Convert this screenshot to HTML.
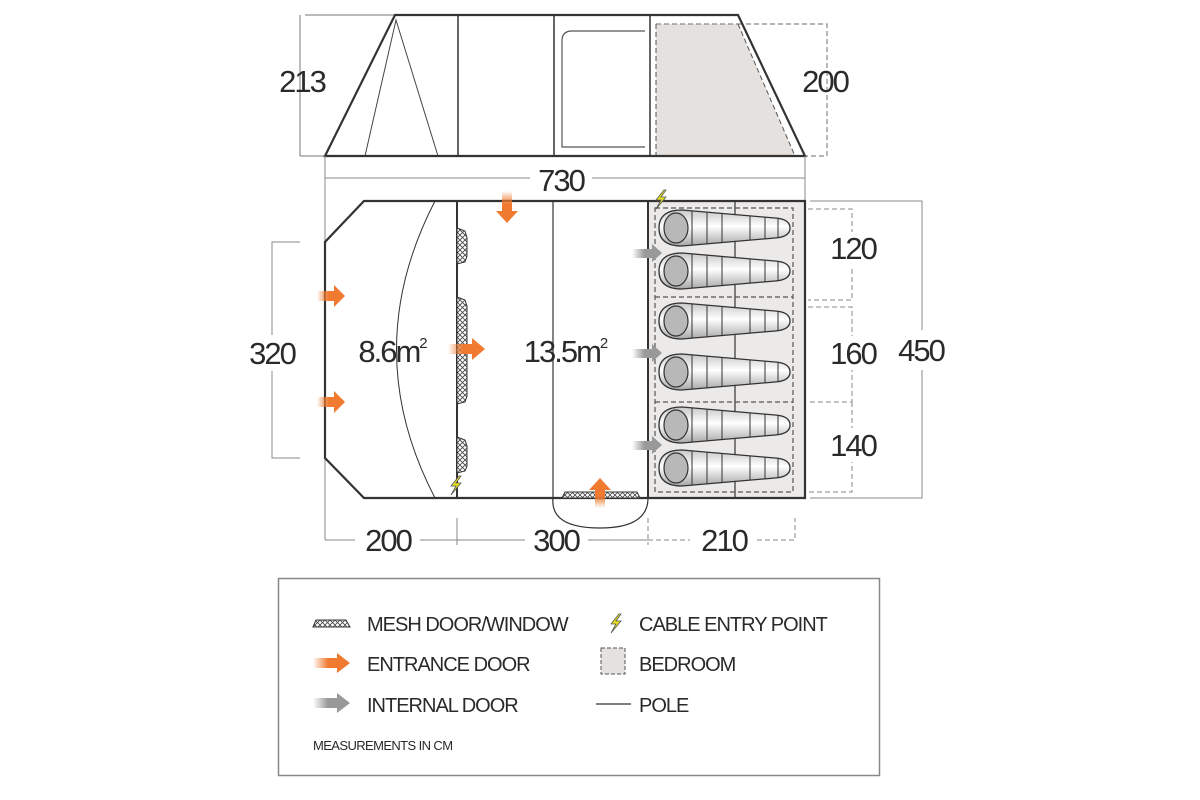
<!DOCTYPE html>
<html><head><meta charset="utf-8"><style>
html,body{margin:0;padding:0;background:#fff;}
svg{display:block;}
text{font-family:"Liberation Sans",sans-serif;fill:#2a2a2a;}
</style></head><body>
<svg width="1200" height="800" viewBox="0 0 1200 800" xmlns="http://www.w3.org/2000/svg">
<defs>
<linearGradient id="bag" x1="0" y1="0" x2="0" y2="1">
<stop offset="0" stop-color="#c8c8c8"/><stop offset="0.45" stop-color="#ffffff"/><stop offset="1" stop-color="#a8a8a8"/>
</linearGradient>
<linearGradient id="og" x1="0" y1="0" x2="1" y2="0">
<stop offset="0" stop-color="#f07a30" stop-opacity="0"/><stop offset="0.6" stop-color="#f07a30"/></linearGradient>
<linearGradient id="ogv" x1="0" y1="1" x2="0" y2="0">
<stop offset="0" stop-color="#f07a30" stop-opacity="0"/><stop offset="0.6" stop-color="#f07a30"/></linearGradient>
<linearGradient id="ogd" x1="0" y1="0" x2="0" y2="1">
<stop offset="0" stop-color="#f07a30" stop-opacity="0"/><stop offset="0.6" stop-color="#f07a30"/></linearGradient>
<linearGradient id="gg" x1="0" y1="0" x2="1" y2="0">
<stop offset="0" stop-color="#999" stop-opacity="0"/><stop offset="0.6" stop-color="#999"/></linearGradient>
<pattern id="mesh" width="5" height="5" patternUnits="userSpaceOnUse">
<rect width="5" height="5" fill="#fff"/><path d="M0,0 L5,5 M5,0 L0,5" stroke="#444" stroke-width="0.8"/></pattern>
<g id="bg">
<path d="M682,-18 L775,-10 Q790,-9 790,0 Q790,9 775,10 L682,18 Q659,18 659,0 Q659,-18 682,-18 Z" fill="url(#bag)" stroke="#333" stroke-width="1.3"/>
<ellipse cx="676" cy="0" rx="12" ry="15" fill="#b8b8b8" stroke="#333" stroke-width="1.2"/>
<path d="M692,-17.5V17.5 M707,-16V16 M722,-14.5V14.5 M750,-12V12 M765,-11V11 M778,-9.5V9.5" stroke="#333" stroke-width="1"/>
</g>
<g id="bolt"><path d="M4,-9 L-4,1 L1,1 L-4,10 L6,-2 L1,-2 L6,-9 Z" fill="#e8e020" stroke="#555" stroke-width="0.8"/></g>
</defs>

<!-- Elevation -->
<path d="M305,15 H395 M300,15 V156 M300,156 H325" stroke="#777" stroke-width="1" fill="none"/>
<text x="302" y="92" font-size="31" text-anchor="middle" letter-spacing="-2">213</text>
<rect x="656" y="24" width="82" height="132" fill="#e4e1de"/>
<polygon points="738,24 738,156 795,156" fill="#e4e1de"/>
<path d="M738,24 H827 V156 H805 M656,24 H738" stroke="#888" stroke-width="1.2" stroke-dasharray="5,3" fill="none"/>
<path d="M656,24 V156 M738,24 L795,156" stroke="#555" stroke-width="1" stroke-dasharray="5,3" fill="none"/>
<text x="825" y="92" font-size="31" text-anchor="middle" letter-spacing="-2">200</text>
<path d="M325,156 L395,15 H738 L805,156 Z" stroke="#333" stroke-width="2.2" fill="none"/>
<path d="M365,156 L396,20 L438,156" stroke="#444" stroke-width="1" fill="none"/>
<path d="M458,15 V156 M554,15 V156 M650,15 V156" stroke="#333" stroke-width="1.5"/>
<path d="M645,31 H572 Q562,31 562,41 V147 H645" stroke="#555" stroke-width="1.2" fill="none"/>

<!-- 730 -->
<path d="M325,156 V540 M805,156 V200" stroke="#888" stroke-width="1"/>
<path d="M325,178 H530 M592,178 H805" stroke="#888" stroke-width="1"/>
<text x="561" y="191" font-size="31" text-anchor="middle" letter-spacing="-2">730</text>

<!-- Plan -->
<rect x="648" y="201" width="157" height="297" fill="#eceae8"/>
<path d="M364,201 H805 V498 H364 L325,458 V242 Z" stroke="#333" stroke-width="2.2" fill="none"/>
<path d="M457,201 V498 M648,201 V498" stroke="#333" stroke-width="2"/>
<path d="M553,201 V498 M735,201 V498" stroke="#333" stroke-width="1.2"/>
<path d="M435,201 Q358,350 435,498" stroke="#333" stroke-width="1" fill="none"/>
<path d="M553,498 Q550,528 600,528 Q648,528 648,498" stroke="#333" stroke-width="1.2" fill="none"/>
<rect x="655" y="208" width="138" height="284" fill="none" stroke="#555" stroke-width="1.2" stroke-dasharray="5,3"/>
<path d="M655,297 H793 M655,402 H793" stroke="#555" stroke-width="1.2" stroke-dasharray="5,3"/>
<!-- mesh -->
<path d="M457,228 L465,231 L467,238 V256 L465,262 L457,264 Z" fill="url(#mesh)" stroke="#333" stroke-width="1"/>
<path d="M457,297 L465,300 L467,306 V396 L465,402 L457,404 Z" fill="url(#mesh)" stroke="#333" stroke-width="1"/>
<path d="M457,437 L465,440 L467,446 V466 L465,471 L457,473 Z" fill="url(#mesh)" stroke="#333" stroke-width="1"/>
<path d="M562,498 L565,492 H637 L640,498 Z" fill="url(#mesh)" stroke="#333" stroke-width="1"/>
<!-- bags -->
<use href="#bg" y="228"/><use href="#bg" y="271"/><use href="#bg" y="321"/>
<use href="#bg" y="372"/><use href="#bg" y="425"/><use href="#bg" y="468"/>
<!-- arrows -->
<g id="oa"><rect x="317" y="291" width="19" height="10" fill="url(#og)"/><polygon points="334,285 345,296 334,307" fill="#f07a30"/></g>
<use href="#oa" y="106"/>
<rect x="448" y="344" width="26" height="10" fill="url(#og)"/><polygon points="472,338 485,349 472,360" fill="#f07a30"/>
<rect x="502" y="191" width="10" height="22" fill="url(#ogd)"/><polygon points="496,211 518,211 507,223" fill="#f07a30"/>
<rect x="595" y="488" width="10" height="20" fill="url(#ogv)"/><polygon points="589,490 611,490 600,478" fill="#f07a30"/>
<g id="ga"><rect x="632" y="249" width="21" height="9" fill="url(#gg)"/><polygon points="652,244 662,253 652,262" fill="#999"/></g>
<use href="#ga" y="100"/><use href="#ga" y="192"/>
<use href="#bolt" x="660" y="199"/><use href="#bolt" x="455" y="485"/>
<text x="392" y="362" font-size="31" text-anchor="middle" letter-spacing="-2">8.6m<tspan font-size="15" dy="-14">2</tspan></text>
<text x="565" y="362" font-size="31" text-anchor="middle" letter-spacing="-2">13.5m<tspan font-size="15" dy="-14">2</tspan></text>

<!-- 320 -->
<path d="M300,242 H272 V458 H300" stroke="#888" stroke-width="1" fill="none"/>
<rect x="245" y="335" width="55" height="36" fill="#fff"/>
<text x="272" y="364" font-size="31" text-anchor="middle" letter-spacing="-2">320</text>
<!-- 450 -->
<path d="M810,201 H922 V498 H810" stroke="#888" stroke-width="1" fill="none"/>
<rect x="895" y="330" width="55" height="40" fill="#fff"/>
<text x="921" y="361" font-size="31" text-anchor="middle" letter-spacing="-2">450</text>
<!-- 120/160/140 -->
<path d="M808,209 H852 V300 H808 M808,307 H852 V402 H808 M852,402 V492 H808" stroke="#888" stroke-width="1" stroke-dasharray="5,3" fill="none"/>
<rect x="826" y="232" width="54" height="34" fill="#fff"/>
<rect x="826" y="336" width="54" height="34" fill="#fff"/>
<rect x="826" y="428" width="54" height="34" fill="#fff"/>
<text x="853" y="259" font-size="31" text-anchor="middle" letter-spacing="-2">120</text>
<text x="853" y="364" font-size="31" text-anchor="middle" letter-spacing="-2">160</text>
<text x="853" y="456" font-size="31" text-anchor="middle" letter-spacing="-2">140</text>
<!-- bottom dims -->
<path d="M325,540 H355 M420,540 H525 M588,540 H648 M457,518 V545" stroke="#888" stroke-width="1" fill="none"/>
<path d="M648,540 H690 M757,540 H795 V518 M648,518 V545" stroke="#888" stroke-width="1" stroke-dasharray="5,3" fill="none"/>
<text x="388" y="551" font-size="31" text-anchor="middle" letter-spacing="-2">200</text>
<text x="556" y="551" font-size="31" text-anchor="middle" letter-spacing="-2">300</text>
<text x="724" y="551" font-size="31" text-anchor="middle" letter-spacing="-2">210</text>

<!-- Legend -->
<rect x="278.5" y="578.5" width="601" height="197" fill="#fff" stroke="#888" stroke-width="1.5"/>
<path d="M313,627 L316,620 H346 L350,627 Z" fill="url(#mesh)" stroke="#333" stroke-width="1"/>
<text x="367" y="631" font-size="20" letter-spacing="-1">MESH DOOR/WINDOW</text>
<use href="#bolt" x="615" y="623"/>
<text x="639" y="631" font-size="20" letter-spacing="-1">CABLE ENTRY POINT</text>
<rect x="313" y="658" width="25" height="10" fill="url(#og)"/><polygon points="337,653 350,663 337,673" fill="#f07a30"/>
<text x="367" y="671" font-size="20" letter-spacing="-1">ENTRANCE DOOR</text>
<rect x="601" y="648" width="24" height="26" fill="#e4e1de" stroke="#555" stroke-dasharray="4,2"/>
<text x="639" y="671" font-size="20" letter-spacing="-1">BEDROOM</text>
<rect x="313" y="698" width="25" height="10" fill="url(#gg)"/><polygon points="337,693 350,703 337,713" fill="#999"/>
<text x="367" y="712" font-size="20" letter-spacing="-1">INTERNAL DOOR</text>
<path d="M596,704 H631" stroke="#333" stroke-width="1.2"/>
<text x="639" y="712" font-size="20" letter-spacing="-1">POLE</text>
<text x="313" y="750" font-size="13" letter-spacing="-0.6">MEASUREMENTS IN CM</text>
</svg>
</body></html>
